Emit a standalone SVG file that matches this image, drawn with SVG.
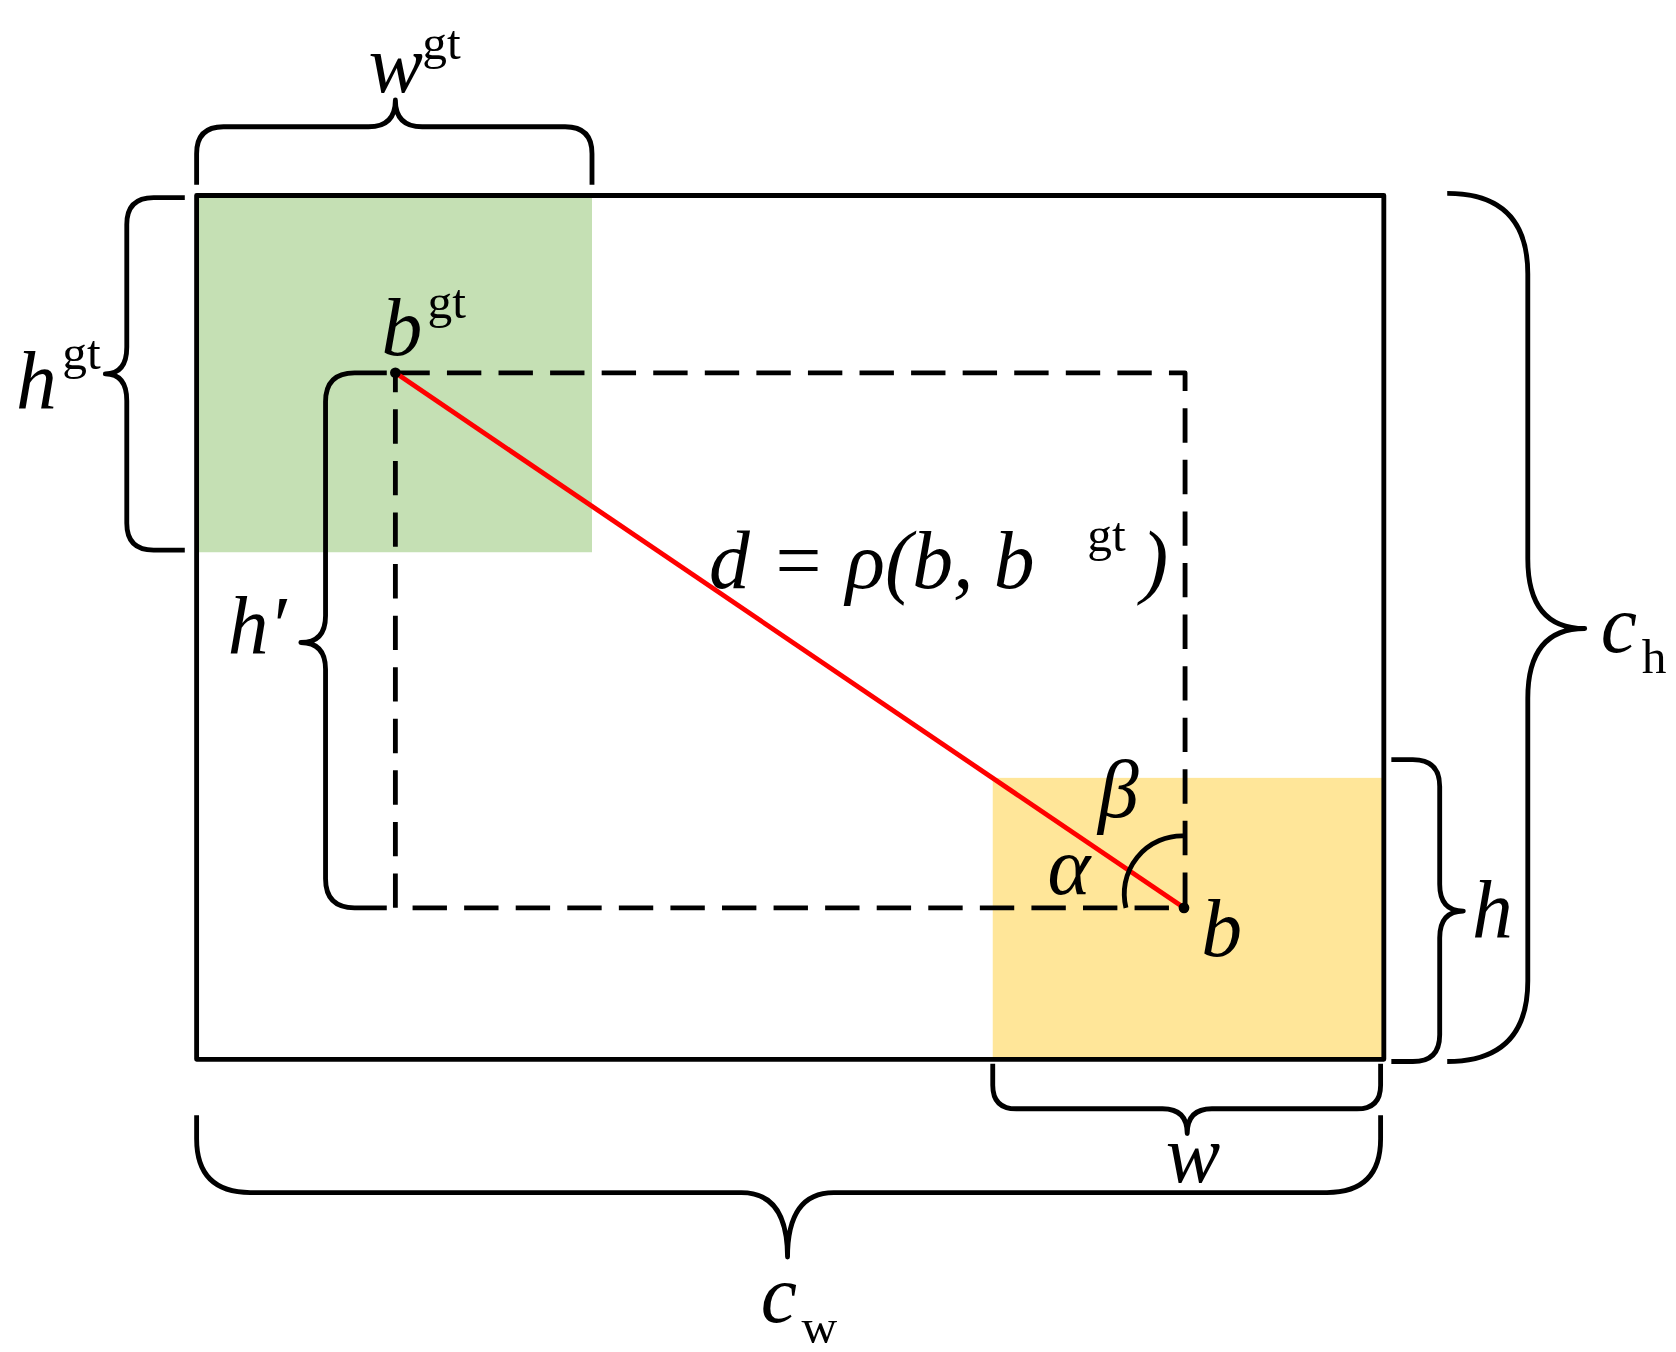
<svg xmlns="http://www.w3.org/2000/svg" width="1676" height="1352" viewBox="0 0 1676 1352">
<style>
.b{fill:none;stroke:#000;stroke-width:4.5;stroke-linejoin:round}
.t{font-family:"Liberation Serif",serif;font-style:italic;font-size:76px;fill:#000}
.s{font-family:"Liberation Serif",serif;font-size:46px;fill:#000}
</style>
<rect width="1676" height="1352" fill="#fff"/>
<g transform="scale(1.0744)">
<g id="gt-box"><rect x="183" y="182" width="368" height="332" fill="#c5e0b4"/></g>
<g id="pred-box"><rect x="924" y="724" width="364" height="262" fill="#ffe699"/></g>
<g id="enclosing"><rect x="183" y="182" width="1105" height="804" class="b"/></g>
<g id="dashed"><rect x="368" y="347" width="735" height="498" class="b" stroke-dasharray="32,16"/></g>
<g id="connectors">
<line x1="368" y1="347" x2="1102" y2="845" stroke="#f00" stroke-width="4.5"/>
<circle cx="368" cy="347" r="5"/><circle cx="1102" cy="845" r="5"/>
<path class="b" d="M1048,845 A54,54 0 0 1 1102,778"/>
<path class="b" d="M183,172 V143 Q183,118 208,118 H343 Q368,118 368,93 Q368,118 393,118 H526 Q551,118 551,143 V172"/>
<path class="b" d="M172,184 H143 Q118,184 118,209 V323 Q118,348 98,348 Q118,348 118,373 V487 Q118,512 143,512 H172"/>
<path class="b" d="M360,347 H330 Q303,347 303,374 V573 Q303,598 280,598 Q303,598 303,623 V818 Q303,845 330,845 H360"/>
<path class="b" d="M1347,180 Q1422,180 1422,255 V520 Q1422,585 1475,585 Q1422,585 1422,650 V913 Q1422,988 1347,988"/>
<path class="b" d="M1295,707 H1315 Q1340,707 1340,732 V823 Q1340,848 1362,848 Q1340,848 1340,873 V963 Q1340,988 1315,988 H1295"/>
<path class="b" d="M924,990 V1010 Q924,1032 946,1032 H1082 Q1105,1032 1105,1055 Q1105,1032 1128,1032 H1263 Q1285,1032 1285,1010 V990"/>
<path class="b" d="M183,1038 V1060 Q183,1110 233,1110 H690 Q733,1110 733,1170 Q733,1110 776,1110 H1235 Q1285,1110 1285,1060 V1038"/>
</g>
<g id="labels">
<text x="343" y="86" class="t">w</text><text x="393" y="55" class="s">gt</text>
<text x="15" y="380" class="t">h</text><text x="58" y="343" class="s">gt</text>
<text x="212" y="608" class="t">h′</text>
<text x="1490" y="607" class="t">c</text><text x="1528" y="626" class="s">h</text>
<text x="1370" y="872" class="t">h</text>
<text x="1085" y="1100" class="t">w</text>
<text x="708" y="1230" class="t">c</text><text x="746" y="1250" class="s">w</text>
<text x="355" y="330" class="t">b</text><text x="398" y="296" class="s">gt</text>
<text x="1118" y="890" class="t">b</text>
<text x="1022" y="760" class="t">β</text>
<text x="975" y="832" class="t">α</text>
<text x="660" y="547" class="t">d = ρ(b, b</text><text x="1012" y="513" class="s">gt</text><text x="1062" y="547" class="t" font-style="normal">)</text>
</g>
</g>
</svg>
